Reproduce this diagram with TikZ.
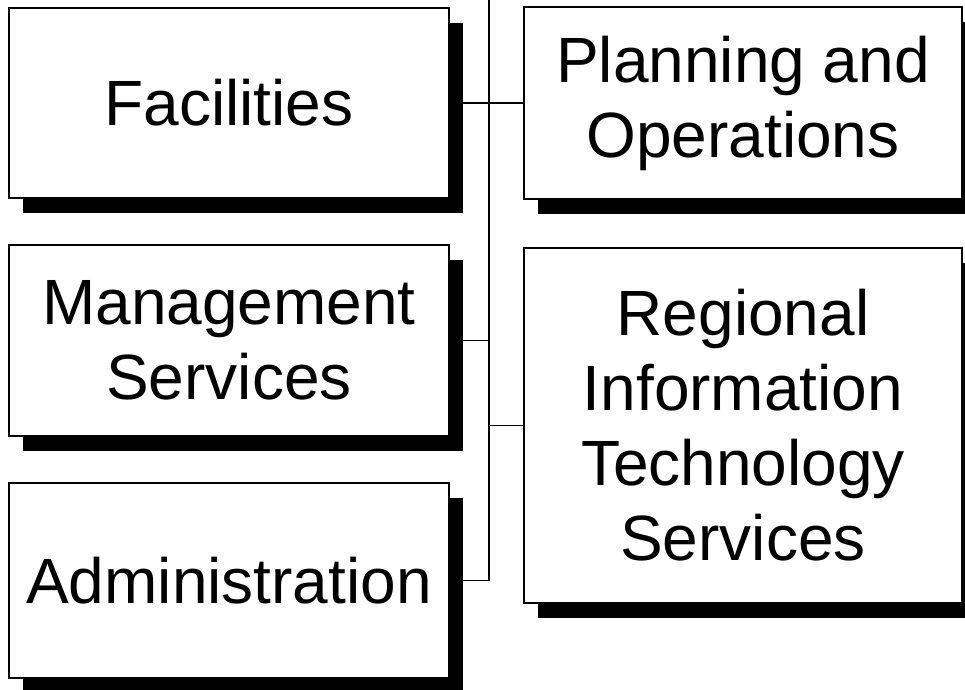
\documentclass[tikz,border=0pt]{standalone}
\usepackage{fontspec}
\setmainfont{Liberation Sans}
\usetikzlibrary{shadows}
\begin{document}
\begin{tikzpicture}[x=0.5pt,y=-0.5pt,
	unitbox/.style={draw,line width=1pt,fill=white,align=center,inner sep=0pt,
		font=\fontsize{32}{37.5}\selectfont,
		drop shadow={shadow xshift=7pt,shadow yshift=-7.5pt,fill=black,opacity=1}},
	link/.style={line width=0.8pt}]
		\useasboundingbox (0,0) rectangle (965,690);
		\coordinate (trunk) at (489,0);
		\node[unitbox,minimum width=220pt,minimum height=95pt] (facilities) at (229,103) {Facilities};
		\node[unitbox,minimum width=219pt,minimum height=96pt] (planning) at (743,103) {Planning and\\Operations} edge[link] (facilities);
		\node[unitbox,minimum width=220pt,minimum height=95.5pt] (management) at (229,340.5) {Management\\Services};
		\node[unitbox,minimum width=219pt,minimum height=177.5pt] (regional) at (743,425.5) {Regional\\Information\\Technology\\Services};
		\node[unitbox,minimum width=220pt,minimum height=97.5pt] (administration) at (229,580.5) {Administration};
		\draw[link] (trunk) |- (administration);
		\draw[link] (management) -- (management -| trunk);
		\draw[link] (regional) -- (regional -| trunk);
\end{tikzpicture}
\end{document}
